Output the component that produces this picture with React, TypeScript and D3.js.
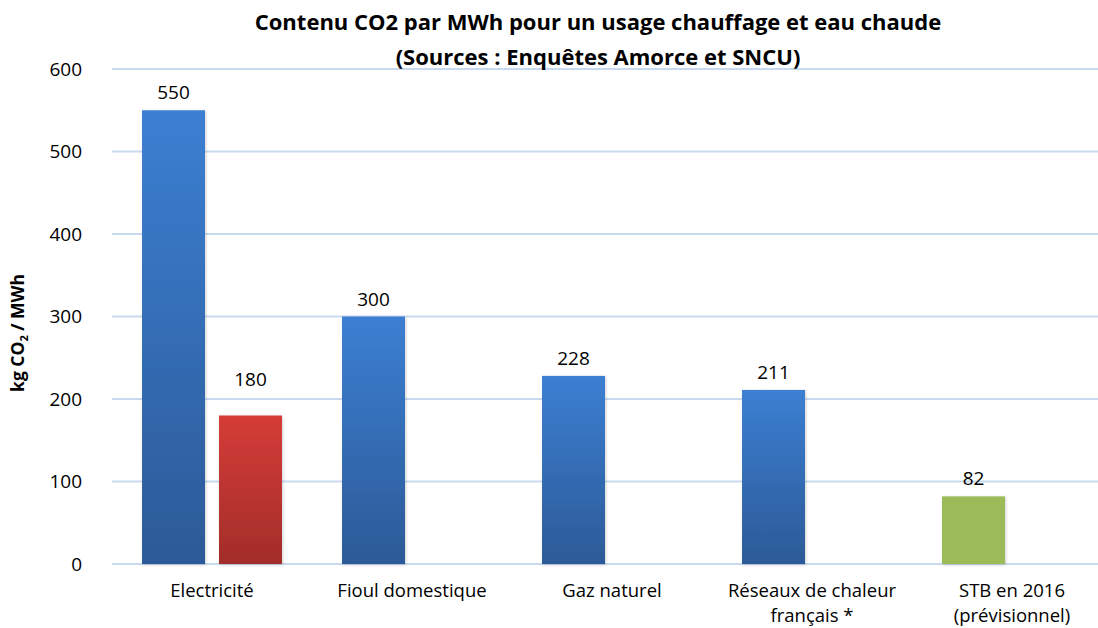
import { useRef, useEffect } from 'react';
import * as d3 from 'd3';

const CATEGORIES = ['Electricité', 'Fioul domestique', 'Gaz naturel', 'Réseaux de chaleur|français *', 'STB en 2016|(prévisionnel)'];
const MAIN_VALUES = [550, 300, 228, 211, 82];
const SECOND_VALUES: (number | null)[] = [180, null, null, null, null];
const Y_TICKS = [0, 100, 200, 300, 400, 500, 600];
const TITLE_LINES = ['Contenu CO2 par MWh pour un usage chauffage et eau chaude', '(Sources : Enquêtes Amorce et SNCU)'];

const FONT = '"Open Sans", "Noto Sans", sans-serif';
const W = 1098;
const H = 628;
const LABEL_SIZE = 19;
const CAT_SIZE = 18.5;

export default function App() {
  const svgRef = useRef<SVGSVGElement>(null);

  useEffect(() => {
    const svg = d3.select(svgRef.current);
    svg.selectAll('*').remove();

    const margin = { top: 69, left: 112, bottom: H - 564 };
    const plotRight = 1112; // plot area continues past the cropped right edge

    const x0 = d3.scaleBand().domain(CATEGORIES).range([margin.left, plotRight]).padding(0);
    const x1 = d3.scaleBand().domain(['a', 'b']).range([0, x0.bandwidth()])
      .paddingInner(0.182).paddingOuter(0.39);
    const y = d3.scaleLinear().domain([0, 600]).range([564, margin.top]);

    const defs = svg.append('defs');
    const grad = (id: string, top: string, bottom: string) => {
      const g = defs.append('linearGradient').attr('id', id)
        .attr('x1', 0).attr('y1', 0).attr('x2', 0).attr('y2', 1);
      g.append('stop').attr('offset', '0%').attr('stop-color', top);
      g.append('stop').attr('offset', '100%').attr('stop-color', bottom);
    };
    grad('blueGrad', '#3c7fd2', '#2c5a97');
    grad('redGrad', '#d53c37', '#a22d2a');
    const shadow = defs.append('filter').attr('id', 'shadow')
      .attr('x', '-10%').attr('y', '-10%').attr('width', '130%').attr('height', '120%');
    shadow.append('feDropShadow').attr('dx', 1).attr('dy', 1).attr('stdDeviation', 1.5)
      .attr('flood-color', '#000').attr('flood-opacity', 0.18);

    svg.append('rect').attr('width', W).attr('height', H).attr('fill', '#fff');

    // gridlines
    svg.append('g')
      .selectAll('line')
      .data(Y_TICKS)
      .join('line')
      .attr('x1', margin.left).attr('x2', plotRight)
      .attr('y1', d => y(d)).attr('y2', d => y(d))
      .attr('stroke', '#c9daf0').attr('stroke-width', 2);

    // y tick labels
    svg.append('g')
      .selectAll('text')
      .data(Y_TICKS)
      .join('text')
      .attr('x', 82).attr('y', d => y(d))
      .attr('dy', '0.35em')
      .attr('text-anchor', 'end')
      .attr('font-family', FONT).attr('font-size', LABEL_SIZE).attr('fill', '#000')
      .text(d => d);

    // y axis title
    const yt = svg.append('text')
      .attr('transform', 'translate(24,333) rotate(-90)')
      .attr('text-anchor', 'middle')
      .attr('font-family', FONT).attr('font-size', 17.5).attr('font-weight', 700).attr('fill', '#000');
    yt.append('tspan').text('kg CO');
    yt.append('tspan').attr('font-size', 11).attr('dy', 4).text('2');
    yt.append('tspan').attr('dy', -4).text(' / MWh');

    // bars
    const bars = svg.append('g');
    CATEGORIES.forEach((cat, i) => {
      const bx = x0(cat)!;
      const main = MAIN_VALUES[i];
      const isLast = i === CATEGORIES.length - 1;
      bars.append('rect')
        .attr('x', bx + x1('a')!).attr('y', y(main))
        .attr('width', x1.bandwidth()).attr('height', y(0) - y(main))
        .attr('fill', isLast ? '#9bbb59' : 'url(#blueGrad)')
        .attr('filter', 'url(#shadow)');
      bars.append('text')
        .attr('x', bx + x1('a')! + x1.bandwidth() / 2).attr('y', y(main) - 11)
        .attr('text-anchor', 'middle')
        .attr('font-family', FONT).attr('font-size', LABEL_SIZE).attr('fill', '#000')
        .text(main);

      const sec = SECOND_VALUES[i];
      if (sec != null) {
        bars.append('rect')
          .attr('x', bx + x1('b')!).attr('y', y(sec))
          .attr('width', x1.bandwidth()).attr('height', y(0) - y(sec))
          .attr('fill', 'url(#redGrad)')
          .attr('filter', 'url(#shadow)');
        bars.append('text')
          .attr('x', bx + x1('b')! + x1.bandwidth() / 2).attr('y', y(sec) - 30)
          .attr('text-anchor', 'middle')
          .attr('font-family', FONT).attr('font-size', LABEL_SIZE).attr('fill', '#000')
          .text(sec);
      }
    });

    // category labels (second lines as separate texts)
    CATEGORIES.forEach(cat => {
      const cx = x0(cat)! + x0.bandwidth() / 2;
      cat.split('|').forEach((l, j) => {
        svg.append('text')
          .attr('x', cx)
          .attr('y', 597 + j * 25.4)
          .attr('text-anchor', 'middle')
          .attr('font-family', FONT).attr('font-size', CAT_SIZE).attr('fill', '#000')
          .text(l);
      });
    });

    // title
    TITLE_LINES.forEach((l, j) => {
      svg.append('text')
        .attr('x', 598).attr('y', 30 + j * 35)
        .attr('text-anchor', 'middle')
        .attr('font-family', FONT).attr('font-size', 22).attr('font-weight', 700).attr('fill', '#000')
        .text(l);
    });
  }, []);

  return (
    <svg ref={svgRef} width={W} height={H}
      style={{ position: 'absolute', left: 0, top: 0, display: 'block' }} />
  );
}
